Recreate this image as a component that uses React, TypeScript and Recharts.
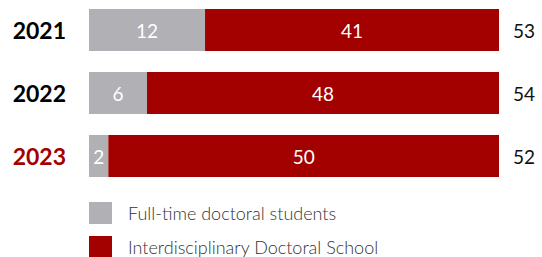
import React from 'react';
import { BarChart, Bar, XAxis, YAxis, Legend, LabelList } from 'recharts';

const years = ['2021', '2022', '2023'];
const fullTime = [12, 6, 2];
const interdisciplinary = [41, 48, 50];
const totals = [53, 54, 52];

const GRAY = '#b0b0b5';
const RED = '#a30000';
const W = 542;
const H = 257;
const MARGIN = { top: -2, right: 43, bottom: 0, left: 0 };
const PLOT_RIGHT = W - MARGIN.right;

const data = years.map((year, i) => ({
    year,
    fullTime: fullTime[i],
    interdisciplinary: interdisciplinary[i],
    total: totals[i],
}));

const YearTick = ({ x, y, payload }: any) => (
    <text
        x={x}
        y={y}
        textAnchor="end"
        dominantBaseline="central"
        fontFamily="Lato"
        fontWeight={700}
        fontSize={23}
        fill={payload.value === '2023' ? RED : '#000'}
    >
        {payload.value}
    </text>
);

// label centred on the visible (clipped) part of the segment
const InnerLabel = ({ x, y, width, height, value }: any) => {
    const right = Math.min(x + width, PLOT_RIGHT);
    return (
        <text
            x={(x + right) / 2}
            y={y + height / 2}
            textAnchor="middle"
            dominantBaseline="central"
            fontFamily="Lato"
            fontSize={19}
            fill="#fff"
        >
            {value}
        </text>
    );
};

const TotalLabel = ({ y, height, index }: any) => (
    <text
        x={PLOT_RIGHT + 14}
        y={y + height / 2}
        dominantBaseline="central"
        fontFamily="Lato"
        fontSize={19}
        fill="#111"
    >
        {totals[index]}
    </text>
);

const LegendContent = ({ payload }: any) => (
    <div>
        {(payload || []).map((entry: any) => (
            <div key={entry.value} style={{ display: 'flex', alignItems: 'center', height: 34 }}>
                <span style={{ width: 23, height: 22, background: entry.color, display: 'inline-block' }} />
                <span style={{ marginLeft: 16, fontFamily: 'Lato', fontWeight: 300, fontSize: 18, color: '#333' }}>
                    {entry.value}
                </span>
            </div>
        ))}
    </div>
);

export default function App() {
    return (
        <div style={{ position: 'absolute', left: 0, top: 0, width: W, height: H, background: '#fff' }}>
            <BarChart width={W} height={187} data={data} layout="vertical" margin={MARGIN} barSize={42}>
                <XAxis type="number" hide domain={[0, 42.4]} allowDataOverflow />
                <YAxis
                    type="category"
                    dataKey="year"
                    width={89}
                    axisLine={false}
                    tickLine={false}
                    tickSize={0}
                    tickMargin={23}
                    tick={<YearTick />}
                />
                <Legend
                    layout="horizontal"
                    verticalAlign="middle"
                    align="center"
                    wrapperStyle={{ top: 196, left: 89, width: 400 }}
                    content={<LegendContent />}
                />
                <Bar dataKey="fullTime" name="Full-time doctoral students" stackId="a" fill={GRAY} isAnimationActive={false}>
                    <LabelList dataKey="fullTime" content={<InnerLabel />} />
                </Bar>
                <Bar dataKey="interdisciplinary" name="Interdisciplinary Doctoral School" stackId="a" fill={RED} isAnimationActive={false}>
                    <LabelList dataKey="interdisciplinary" content={<InnerLabel />} />
                    <LabelList dataKey="total" content={<TotalLabel />} />
                </Bar>
            </BarChart>
        </div>
    );
}
